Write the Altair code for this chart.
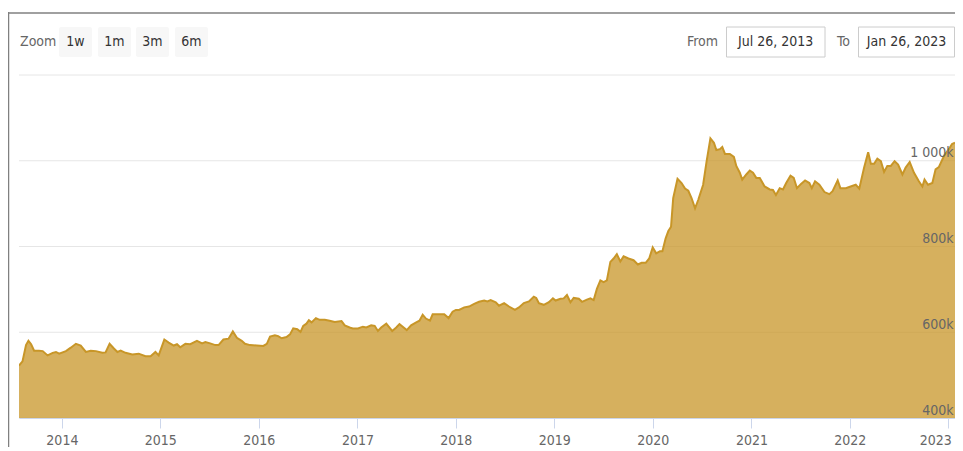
import altair as alt
import pandas as pd

# ---------------- data (values in thousands) ----------------
dates = [
    "2013-07-26", "2013-08-08", "2013-08-21", "2013-08-30", "2013-09-09", "2013-09-20",
    "2013-10-08", "2013-10-22", "2013-11-09", "2013-11-28", "2013-12-10", "2013-12-22",
    "2014-01-16", "2014-02-03", "2014-02-22", "2014-03-12", "2014-03-31", "2014-04-18",
    "2014-05-07", "2014-05-31", "2014-06-12", "2014-06-27", "2014-07-13", "2014-07-26",
    "2014-08-07", "2014-08-25", "2014-09-19", "2014-10-13", "2014-11-07", "2014-11-26",
    "2014-12-14", "2014-12-26", "2015-01-16", "2015-02-01", "2015-02-20", "2015-03-04",
    "2015-03-16", "2015-04-04", "2015-04-22", "2015-05-17", "2015-06-05", "2015-06-17",
    "2015-07-05", "2015-07-24", "2015-08-05", "2015-08-23", "2015-09-11", "2015-09-27",
    "2015-10-12", "2015-10-30", "2015-11-11", "2015-11-30", "2015-12-25", "2016-01-18",
    "2016-01-31", "2016-02-12", "2016-03-01", "2016-03-13", "2016-03-26", "2016-04-13",
    "2016-04-26", "2016-05-08", "2016-05-23", "2016-06-04", "2016-06-14", "2016-06-26",
    "2016-07-05", "2016-07-15", "2016-07-31", "2016-08-14", "2016-09-02", "2016-09-20",
    "2016-10-09", "2016-11-03", "2016-11-15", "2016-12-03", "2016-12-15", "2017-01-03",
    "2017-01-21", "2017-02-03", "2017-02-21", "2017-03-06", "2017-03-18", "2017-03-30",
    "2017-04-18", "2017-05-10", "2017-05-25", "2017-06-06", "2017-06-18", "2017-07-03",
    "2017-07-19", "2017-08-07", "2017-08-19", "2017-08-31", "2017-09-12", "2017-09-27",
    "2017-10-07", "2017-10-25", "2017-11-19", "2017-12-05", "2017-12-20", "2018-01-01",
    "2018-01-13", "2018-02-01", "2018-02-19", "2018-03-10", "2018-03-28", "2018-04-16",
    "2018-04-28", "2018-05-10", "2018-05-29", "2018-06-10", "2018-06-29", "2018-07-17",
    "2018-08-08", "2018-08-23", "2018-09-10", "2018-09-29", "2018-10-17", "2018-10-26",
    "2018-11-05", "2018-11-23", "2018-12-12", "2018-12-27", "2019-01-06", "2019-01-24",
    "2019-02-05", "2019-02-17", "2019-03-02", "2019-03-14", "2019-04-02", "2019-04-14",
    "2019-05-02", "2019-05-15", "2019-05-27", "2019-06-08", "2019-06-21", "2019-07-03",
    "2019-07-15", "2019-07-28", "2019-08-09", "2019-08-21", "2019-09-03", "2019-09-15",
    "2019-10-03", "2019-10-22", "2019-11-07", "2019-11-21", "2019-12-06", "2019-12-19",
    "2020-01-01", "2020-01-14", "2020-01-28", "2020-02-06", "2020-02-18", "2020-02-28",
    "2020-03-09", "2020-03-17", "2020-04-02", "2020-04-17", "2020-04-30", "2020-05-12",
    "2020-05-24", "2020-06-06", "2020-06-18", "2020-07-06", "2020-07-19", "2020-08-02",
    "2020-08-15", "2020-08-24", "2020-09-06", "2020-09-15", "2020-09-25", "2020-10-13",
    "2020-10-28", "2020-11-06", "2020-11-19", "2020-11-28", "2020-12-13", "2020-12-26",
    "2021-01-07", "2021-01-19", "2021-02-01", "2021-02-19", "2021-03-10", "2021-03-22",
    "2021-04-02", "2021-04-16", "2021-04-28", "2021-05-10", "2021-05-26", "2021-06-07",
    "2021-06-19", "2021-07-04", "2021-07-19", "2021-08-04", "2021-08-13", "2021-08-25",
    "2021-09-10", "2021-09-29", "2021-10-17", "2021-10-29", "2021-11-17", "2021-11-27",
    "2021-12-17", "2022-01-04", "2022-01-23", "2022-02-05", "2022-02-23", "2022-03-10",
    "2022-03-20", "2022-04-01", "2022-04-13", "2022-04-26", "2022-05-08", "2022-05-20",
    "2022-06-02", "2022-06-16", "2022-06-29", "2022-07-15", "2022-07-27", "2022-08-11",
    "2022-08-27", "2022-09-14", "2022-09-27", "2022-10-05", "2022-10-18", "2022-11-03",
    "2022-11-15", "2022-11-27", "2022-12-16", "2023-01-03", "2023-01-15", "2023-01-26",
]
values = [
    522, 532, 570, 580, 572, 557,
    557, 556, 546, 552, 554, 550,
    556, 564, 573, 569, 554, 557,
    556, 552, 553, 573, 562, 554,
    557, 552, 548, 550, 544, 544,
    554, 546, 583, 576, 569, 572,
    565, 573, 572, 580, 574, 577,
    574, 570, 570, 583, 585, 602,
    587, 580, 573, 570, 569, 568,
    573, 590, 593, 591, 586, 589,
    595, 609, 607, 601, 615, 620,
    628, 623, 633, 629, 629, 627,
    624, 626, 616, 611, 609, 609,
    613, 611, 616, 615, 603, 611,
    620, 603, 611, 619, 613, 605,
    616, 623, 627, 641, 632, 627,
    642, 642, 642, 633, 648, 652,
    652, 658, 660, 666, 671, 674,
    672, 675, 670, 662, 668, 660,
    652, 658, 668, 672, 683, 680,
    668, 664, 670, 679, 674, 678,
    679, 687, 670, 680, 678, 671,
    676, 679, 675, 701, 721, 717,
    721, 764, 772, 782, 765, 777,
    772, 768, 758, 762, 762, 772,
    798, 784, 789, 789, 819, 836,
    846, 913, 958, 948, 935, 930,
    913, 889, 909, 944, 999, 1052,
    1042, 1025, 1027, 1032, 1016, 1016,
    1009, 988, 972, 956, 968, 977,
    972, 960, 960, 940, 933, 932,
    920, 936, 933, 948, 965, 960,
    936, 946, 954, 948, 936, 952,
    944, 927, 922, 929, 954, 936,
    936, 940, 944, 935, 984, 1020,
    993, 993, 1005, 999, 974, 988,
    988, 999, 991, 968, 984, 997,
    972, 952, 940, 956, 944, 948,
    980, 985, 1011, 1027, 1039, 1042,
]
grid_values = [400, 600, 800, 1000, 1200]
label_values = [400, 600, 800, 1000]
year_ticks = list(range(2014, 2024))
zoom_buttons = ["1w", "1m", "3m", "6m"]
zoom_label = "Zoom"
from_word, to_word = "From", "To"
from_date, to_date = "Jul 26, 2013", "Jan 26, 2023"

# ---------------- styling ----------------
FONT = "'Liberation Sans Narrow', 'DejaVu Sans Condensed', sans-serif"
FS = 14
GOLD = "#c89628"
W, H = 936, 343

df = pd.DataFrame({"date": dates, "price": values})
grid_df = pd.DataFrame({"v": grid_values})
one = pd.DataFrame({"k": [0]})

x_scale = alt.Scale(
    type="utc",
    domain=[alt.DateTime(year=2013, month=7, date=26, utc=True),
            alt.DateTime(year=2023, month=1, date=26, utc=True)],
)
y_scale = alt.Scale(domain=[400, 1200], nice=False, zero=False)

x_axis = alt.Axis(
    title=None, format="%Y",
    values=[alt.DateTime(year=y, month=1, date=1, utc=True) for y in year_ticks],
    grid=False, domainColor="#ccd6eb", tickColor="#ccd6eb", tickSize=10,
    labelFont=FONT, labelFontSize=FS, labelColor="#666666",
    labelBaseline="alphabetic", labelPadding=16,
    labelFlush=10, labelFlushOffset=3, labelOverlap=False, zindex=1,
)
y_axis = alt.Axis(
    title=None, orient="right", grid=False, domain=False, ticks=False, tickSize=0,
    values=label_values,
    labelExpr="replace(format(datum.value, ','), ',', ' ') + 'k'",
    labelAlign="right", labelBaseline="alphabetic", labelOffset=-4, labelPadding=-2,
    labelFont=FONT, labelFontSize=FS, labelColor="#666666", labelFlush=False, zindex=1,
)

grid = alt.Chart(grid_df).mark_rule(color="#e6e6e6", strokeWidth=1).encode(
    y=alt.Y("v:Q", scale=y_scale, axis=y_axis)
)

base = alt.Chart(df).encode(
    x=alt.X("date:T", scale=x_scale, axis=x_axis),
    y=alt.Y("price:Q", scale=y_scale, axis=y_axis),
)
area = base.mark_area(color=GOLD, fillOpacity=0.75, clip=True)
line = base.mark_line(color=GOLD, strokeWidth=2, clip=True)


def ui_rect(x0, x1, y0, y1, fill, stroke=None):
    kw = dict(fill=fill, cornerRadius=2)
    if stroke:
        kw.update(stroke=stroke, strokeWidth=1, cornerRadius=0)
    return alt.Chart(one).mark_rect(**kw).encode(
        x=alt.value(x0), x2=alt.value(x1), y=alt.value(y0), y2=alt.value(y1)
    )


def ui_text(label, x, y, align, color):
    return alt.Chart(one).mark_text(
        text=label, align=align, baseline="middle", font=FONT, fontSize=FS, color=color
    ).encode(x=alt.value(x), y=alt.value(y))


ui = []
# frame lines (left and top border)
ui.append(alt.Chart(one).mark_rule(color="#808080", strokeWidth=1.5).encode(
    x=alt.value(-10.5), y=alt.value(-63), y2=alt.value(380)))
ui.append(alt.Chart(one).mark_rule(color="#808080", strokeWidth=1.5).encode(
    x=alt.value(-11), x2=alt.value(950), y=alt.value(-62)))

ui.append(ui_text(zoom_label, 1, -33, "left", "#666666"))
btn_left = [40, 79, 117, 156]
for lbl, bx in zip(zoom_buttons, btn_left):
    ui.append(ui_rect(bx, bx + 33, -48, -18, "#f7f7f7"))
    ui.append(ui_text(lbl, bx + 16.5, -33, "center", "#333333"))

ui.append(ui_text(from_word, 699, -33, "right", "#666666"))
ui.append(ui_rect(707.5, 806, -48, -18, "#ffffff", "#cccccc"))
ui.append(ui_text(from_date, 756.7, -33, "center", "#333333"))
ui.append(ui_text(to_word, 831, -33, "right", "#666666"))
ui.append(ui_rect(839.5, 935.5, -48, -18, "#ffffff", "#cccccc"))
ui.append(ui_text(to_date, 887.5, -33, "center", "#333333"))

chart = alt.layer(grid, area, line, *ui).properties(
    width=W, height=H,
    autosize=alt.AutoSizeParams(type="none"),
    padding={"left": 11, "top": 67, "right": 0, "bottom": 29},
    background="#ffffff",
).configure_view(stroke=None)

chart.save("out.html", embed_options={"renderer": "svg", "actions": False})
